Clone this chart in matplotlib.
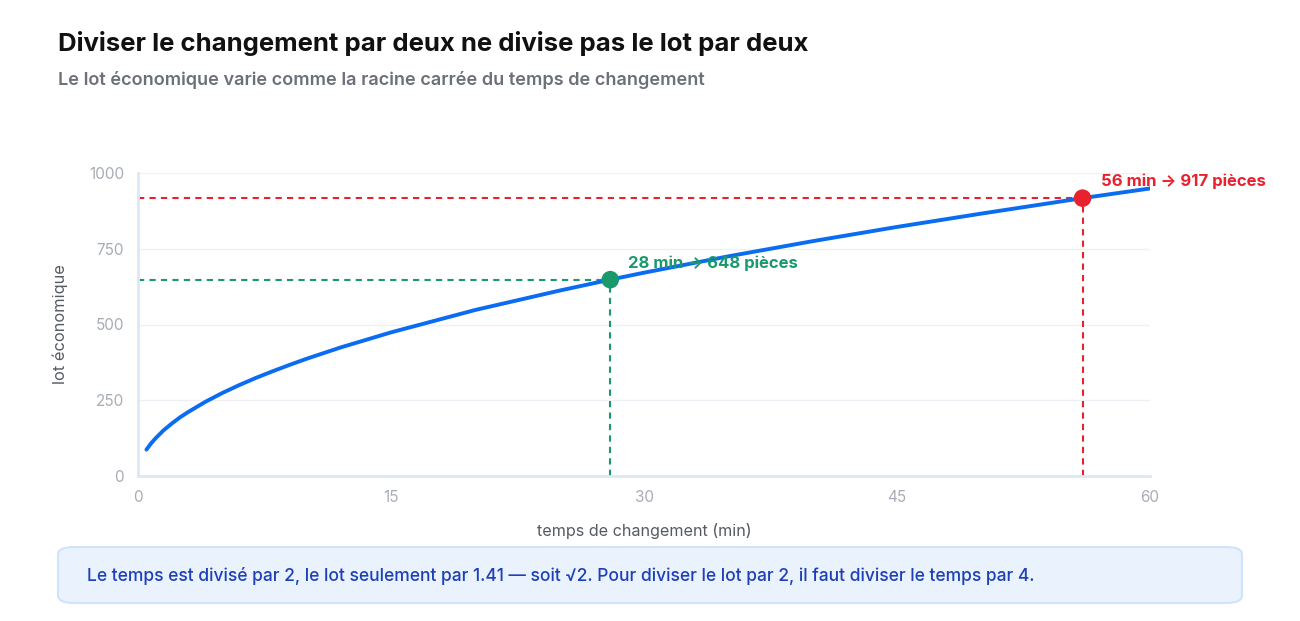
import matplotlib
matplotlib.use("Agg")
import matplotlib.pyplot as plt
from matplotlib.patches import FancyBboxPatch

plt.rcParams['font.family'] = ['Inter', 'DejaVu Sans']

# values
temps = [0.5, 0.75, 1, 1.5, 2, 2.5, 3, 4, 5, 6, 7, 8, 9, 10, 12, 15, 20, 25, 28, 30,
         35, 40, 45, 50, 56, 60]
lot = [87, 106, 122, 150, 173, 194, 212, 245, 274, 300, 324, 346, 367, 387, 424, 474,
       548, 612, 648, 671, 725, 775, 822, 866, 917, 949]

points_t = [28, 56]
points_lot = [648, 917]
point_labels = ["28 min → 648 pièces", "56 min → 917 pièces"]
point_colors = ["#1a9a6c", "#e8212f"]

xticks = [0, 15, 30, 45, 60]
yticks = [0, 250, 500, 750, 1000]

fig = plt.figure(figsize=(13, 6.21), dpi=100)
ax = fig.add_axes([138/1300, 1 - 476/621, (1150-138)/1300, (476-173)/621])

ax.plot(temps, lot, color="#0a6cf0", lw=2.8, solid_capstyle="round", zorder=3)

for t, v, lab, c in zip(points_t, points_lot, point_labels, point_colors):
    ax.plot([0, t], [v, v], color=c, lw=1.5, ls=(0, (3, 2.5)), zorder=2)
    ax.plot([t, t], [0, v], color=c, lw=1.5, ls=(0, (3, 2.5)), zorder=2)
    ax.scatter([t], [v], s=160, color=c, zorder=4, edgecolor="none")
    ax.annotate(lab, (t, v), xytext=(13, 12), textcoords="offset points",
                color=c, fontsize=12, fontweight="bold", ha="left", va="center",
                annotation_clip=False, zorder=5)

ax.set_xlim(0, 60)
ax.set_ylim(0, 1000)
ax.set_xticks(xticks)
ax.set_yticks(yticks)
ax.tick_params(length=0, colors="#a8adb5", labelsize=11, pad=10)
ax.grid(axis="y", color="#edf0f4", lw=1)
ax.set_axisbelow(True)
for s in ["top", "right"]:
    ax.spines[s].set_visible(False)
ax.spines["left"].set_color("#dbe8f6")
ax.spines["left"].set_linewidth(2)
ax.spines["bottom"].set_color("#dbe8f6")
ax.spines["bottom"].set_linewidth(2)

ax.set_xlabel("temps de changement (min)", fontsize=11.6, color="#555a63", labelpad=13)
ax.set_ylabel("lot économique", fontsize=11.8, color="#555a63", labelpad=15)

fig.text(58/1300, 1 - 43/621, "Diviser le changement par deux ne divise pas le lot par deux",
         fontsize=18.5, fontweight="bold", color="#111111", va="center")
fig.text(58/1300, 1 - 80/621, "Le lot économique varie comme la racine carrée du temps de changement",
         fontsize=13.05, fontweight="semibold", color="#6b7079", va="center")

box = FancyBboxPatch((58/1300, 1 - 603/621), (1242-58)/1300, (603-547)/621,
                     boxstyle="round,pad=0,rounding_size=0.012",
                     transform=fig.transFigure, facecolor="#e9f2fd",
                     edgecolor="#cfe4fa", lw=1.5)
fig.patches.append(box)
fig.text(87/1300, 1 - 576/621,
         "Le temps est divisé par 2, le lot seulement par 1.41 — soit √2. Pour diviser le lot par 2, il faut diviser le temps par 4.",
         fontsize=12.55, fontweight="medium", color="#1d3fb8", va="center")

fig.savefig("out.png", dpi=100)
